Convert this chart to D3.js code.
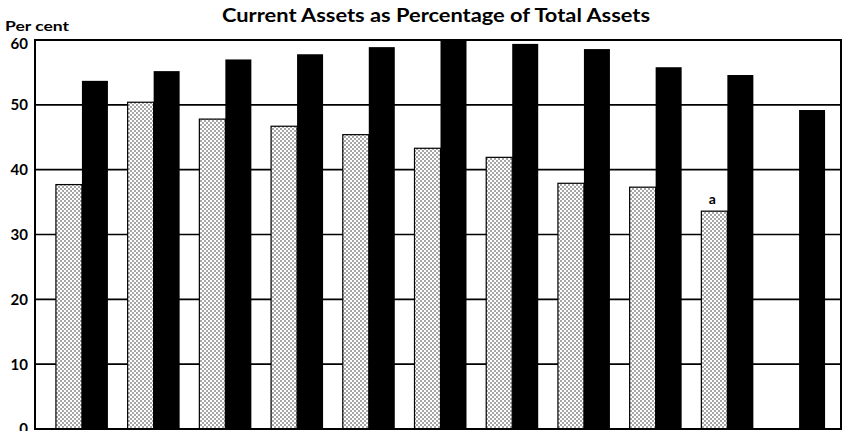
<!DOCTYPE html>
<html>
<head>
<meta charset="utf-8">
<script src="https://cdn.jsdelivr.net/npm/d3@7.9.0/dist/d3.min.js"></script>
<style>
  body { margin: 0; background: #fff; }
  svg { display: block; }
  text { font-family: 'Lato', 'DejaVu Sans', sans-serif; fill: #000; }
</style>
</head>
<body>
<svg id="chart" width="843" height="431"></svg>
<script>
// groups along the x axis (no labels printed in the original)
const groups = ['1', '2', '3', '4', '5', '6', '7', '8', '9', '10', '11'];
// stippled bars (first series), last group has none
const dottedValues = [37.7, 50.4, 47.8, 46.7, 45.4, 43.3, 41.9, 37.9, 37.3, 33.6, null];
// solid black bars (second series)
const blackValues = [53.7, 55.2, 57.0, 57.8, 58.9, 60.0, 59.4, 58.6, 55.8, 54.6, 49.2];
const yTicks = [0, 10, 20, 30, 40, 50, 60];
// footnote mark drawn above one bar
const notes = [{ group: '10', series: 'dotted', text: 'a' }];

const svg = d3.select('#chart');
const frame = { left: 35, right: 841, top: 40, bottom: 429 };

const y = d3.scaleLinear().domain([0, 60]).range([frame.bottom, frame.top]);

const x = d3.scaleBand()
  .domain(groups)
  .range([38, 843])
  .paddingInner(0.275)
  .paddingOuter(0.25);

const xSub = d3.scaleBand()
  .domain(['dotted', 'black'])
  .range([0, x.bandwidth()]);

// stipple pattern
const defs = svg.append('defs');
const pat = defs.append('pattern')
  .attr('id', 'dots')
  .attr('width', 4)
  .attr('height', 4)
  .attr('patternUnits', 'userSpaceOnUse');
pat.append('rect').attr('width', 4).attr('height', 4).attr('fill', '#fff');
pat.append('circle').attr('cx', 1).attr('cy', 1).attr('r', 0.65).attr('fill', '#000');
pat.append('circle').attr('cx', 3).attr('cy', 3).attr('r', 0.65).attr('fill', '#000');

// title
svg.append('text')
  .attr('x', 436)
  .attr('y', 22)
  .attr('text-anchor', 'middle')
  .attr('font-size', 18)
  .attr('font-weight', 'bold')
  .attr('textLength', 428)
  .attr('lengthAdjust', 'spacingAndGlyphs')
  .text('Current Assets as Percentage of Total Assets');

svg.append('text')
  .attr('x', 5)
  .attr('y', 31)
  .attr('font-size', 14)
  .attr('font-weight', 'bold')
  .attr('textLength', 64)
  .attr('lengthAdjust', 'spacingAndGlyphs')
  .text('Per cent');

// gridlines behind the bars
svg.append('g')
  .selectAll('line')
  .data(yTicks.filter((d) => d > 0 && d < 60))
  .join('line')
  .attr('x1', frame.left)
  .attr('x2', frame.right)
  .attr('y1', (d) => y(d))
  .attr('y2', (d) => y(d))
  .attr('stroke', '#000')
  .attr('stroke-width', 1.6);

// y tick labels (top one sits a little below its line)
svg.append('g')
  .selectAll('text')
  .data(yTicks)
  .join('text')
  .attr('x', 28)
  .attr('y', (d) => y(d) + (d === 60 ? 4 : 0))
  .attr('dy', '0.36em')
  .attr('text-anchor', 'end')
  .attr('font-size', 15)
  .attr('font-weight', 'bold')
  .text((d) => d);

const bars = svg.append('g');

groups.forEach((g, i) => {
  if (dottedValues[i] != null) {
    bars.append('rect')
      .attr('x', x(g) + xSub('dotted'))
      .attr('y', y(dottedValues[i]))
      .attr('width', xSub.bandwidth())
      .attr('height', y(0) - y(dottedValues[i]))
      .attr('fill', 'url(#dots)')
      .attr('stroke', '#000')
      .attr('stroke-width', 1.2);
  }
  bars.append('rect')
    .attr('x', x(g) + xSub('black'))
    .attr('y', y(blackValues[i]))
    .attr('width', xSub.bandwidth())
    .attr('height', y(0) - y(blackValues[i]))
    .attr('fill', '#000');
});

// footnote marks
notes.forEach((n) => {
  const i = groups.indexOf(n.group);
  const v = n.series === 'dotted' ? dottedValues[i] : blackValues[i];
  svg.append('text')
    .attr('x', x(n.group) + xSub(n.series) + xSub.bandwidth() / 2 - 2)
    .attr('y', y(v) - 7)
    .attr('text-anchor', 'middle')
    .attr('font-size', 14)
    .attr('font-weight', 'bold')
    .text(n.text);
});

// frame
svg.append('rect')
  .attr('x', frame.left)
  .attr('y', frame.top)
  .attr('width', frame.right - frame.left)
  .attr('height', frame.bottom - frame.top)
  .attr('fill', 'none')
  .attr('stroke', '#000')
  .attr('stroke-width', 2);
</script>
</body>
</html>
